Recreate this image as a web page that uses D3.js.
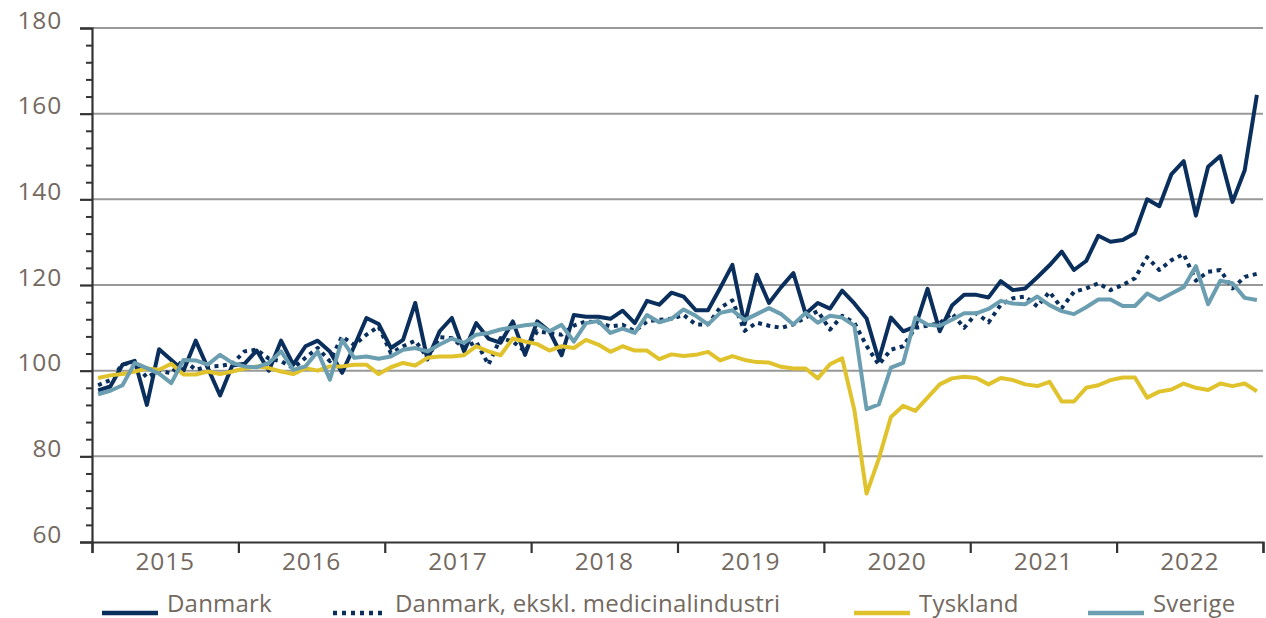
<!DOCTYPE html>
<html>
<head>
<meta charset="utf-8">
<script src="https://cdn.jsdelivr.net/npm/d3@7"></script>
<style>
  html, body { margin: 0; padding: 0; background: #fff; }
  svg { display: block; }
  text { font-family: "Open Sans", "Noto Sans", sans-serif; fill: #74695f; }
</style>
</head>
<body>
<svg id="chart" width="1266" height="618"></svg>
<script>
// ---- Data (monthly index, Jan 2015 – Dec 2022) ----
const years = [2015, 2016, 2017, 2018, 2019, 2020, 2021, 2022];
const yTicks = [60, 80, 100, 120, 140, 160, 180];
const seriesNames = ["Danmark", "Danmark, ekskl. medicinalindustri", "Tyskland", "Sverige"];

const danmark = [
  95.4, 96.3, 101.4, 102.3, 92.0, 105.0, 102.5, 100.0, 107.0, 100.6, 94.2, 101.2,
  101.6, 104.7, 100.0, 107.0, 101.4, 105.7, 107.0, 104.5, 99.5, 105.7, 112.3, 110.9,
  105.3, 107.2, 115.8, 102.6, 109.2, 112.3, 104.5, 111.1, 107.5, 106.5, 111.5, 103.7,
  111.5, 109.2, 103.6, 113.0, 112.6, 112.6, 112.1, 114.0, 111.1, 116.3, 115.4, 118.2,
  117.3, 114.1, 114.1, 119.3, 124.7, 110.9, 122.4, 115.8, 119.5, 122.8, 113.3, 115.8,
  114.5, 118.7, 115.7, 112.2, 102.5, 112.4, 109.2, 110.3, 119.1, 109.2, 115.2, 117.7,
  117.7, 117.1, 120.9, 118.8, 119.2, 121.8, 124.6, 127.8, 123.5, 125.6, 131.5, 130.1,
  130.5, 132.1, 140.0, 138.4, 145.9, 148.9, 136.2, 147.6, 150.1, 139.4, 146.8, 164.4
];
const danmarkEkskl = [
  96.6, 97.8, 101.5, 101.8, 98.4, 100.0, 99.4, 102.6, 100.2, 101.0, 101.1, 101.6,
  104.5, 104.9, 102.8, 102.2, 100.6, 103.0, 105.3, 102.2, 108.0, 106.0, 108.4, 110.3,
  104.1, 105.7, 107.0, 103.0, 107.8, 107.6, 105.3, 106.8, 101.4, 107.6, 106.8, 104.5,
  109.2, 108.8, 108.4, 110.5, 111.5, 111.3, 110.3, 110.7, 109.2, 111.5, 111.9, 112.1,
  113.0, 110.8, 110.8, 114.7, 116.4, 109.3, 111.2, 110.5, 110.0, 110.8, 112.4, 113.9,
  109.6, 112.8, 111.2, 105.8, 101.4, 104.9, 105.7, 110.0, 110.5, 111.1, 113.4, 110.0,
  113.4, 111.3, 115.4, 116.9, 117.3, 115.0, 118.4, 114.6, 118.4, 119.2, 120.4, 118.8,
  120.0, 121.6, 126.5, 123.5, 125.8, 127.2, 121.0, 123.1, 123.5, 119.2, 121.9, 122.6
];
const tyskland = [
  98.3, 98.9, 99.2, 99.8, 100.5, 100.2, 101.6, 99.1, 99.1, 99.8, 99.2, 99.8,
  100.5, 101.0, 100.6, 99.8, 99.2, 100.6, 100.0, 101.0, 101.0, 101.4, 101.4, 99.2,
  100.8, 101.8, 101.2, 103.0, 103.3, 103.3, 103.6, 105.7, 104.5, 103.6, 107.5, 106.8,
  106.2, 104.7, 105.7, 105.3, 107.2, 106.1, 104.4, 105.7, 104.7, 104.7, 102.7, 103.8,
  103.4, 103.7, 104.4, 102.4, 103.4, 102.5, 102.0, 101.9, 100.9, 100.5, 100.5, 98.2,
  101.5, 102.9, 90.8, 71.3, 79.4, 89.2, 91.8, 90.6, 93.7, 96.8, 98.2, 98.6,
  98.3, 96.8, 98.3, 97.8, 96.8, 96.4, 97.4, 92.8, 92.8, 96.0, 96.6, 97.8,
  98.4, 98.4, 93.7, 95.1, 95.6, 97.0, 96.0, 95.5, 97.0, 96.4, 97.0, 95.2
];
const sverige = [
  94.5, 95.3, 96.6, 101.8, 100.6, 99.3, 97.1, 102.5, 102.4, 101.4, 103.7, 101.8,
  101.0, 100.8, 101.8, 104.5, 100.2, 101.0, 104.5, 97.9, 107.2, 103.0, 103.3, 102.8,
  103.3, 104.9, 105.3, 104.5, 106.1, 107.5, 106.5, 108.4, 108.8, 109.6, 110.1, 110.6,
  110.9, 109.2, 110.7, 106.8, 111.1, 111.6, 108.8, 109.8, 108.8, 113.0, 111.3, 112.1,
  114.3, 112.8, 110.8, 113.5, 114.1, 111.8, 113.2, 114.6, 113.2, 110.8, 113.5, 111.2,
  112.8, 112.4, 110.5, 91.0, 92.1, 100.7, 101.8, 112.4, 110.7, 110.5, 111.9, 113.4,
  113.4, 114.4, 116.3, 115.7, 115.5, 117.3, 115.3, 113.9, 113.2, 114.8, 116.6, 116.6,
  115.1, 115.1, 118.0, 116.5, 118.0, 119.5, 124.4, 115.5, 121.0, 120.4, 117.0, 116.5
];

const months = [];
years.forEach(yv => { for (let m = 1; m <= 12; m++) months.push(yv + "-" + String(m).padStart(2, "0")); });

// ---- Layout ----
const plotLeft = 92, plotRight = 1263, plotTop = 28, plotBottom = 542;
const svg = d3.select("#chart");

const x = d3.scaleBand().domain(months).range([plotLeft, plotRight]).paddingInner(0).paddingOuter(0);
const xc = d => x(d) + x.bandwidth() / 2;
const y = d3.scaleLinear().domain([60, 180]).range([plotBottom, plotTop]);

const textCol = "#74695f";
const axisCol = "#333333";

// gridlines
svg.append("g").selectAll("line")
  .data(yTicks.filter(t => t > 60))
  .join("line")
  .attr("x1", plotLeft).attr("x2", plotRight)
  .attr("y1", d => y(d)).attr("y2", d => y(d))
  .attr("stroke", "#999999").attr("stroke-width", 2);

// y axis: minor ticks every 4
const minor = d3.range(60, 181, 4).filter(v => !yTicks.includes(v));
const yMinor = d3.axisLeft(y).tickValues(minor).tickSize(6).tickFormat("");
const gMinor = svg.append("g").attr("transform", `translate(${plotLeft},0)`).call(yMinor);
gMinor.select(".domain").remove();
gMinor.selectAll("line").attr("stroke", axisCol).attr("stroke-width", 2);

const yAxis = d3.axisLeft(y).tickValues(yTicks).tickSize(12).tickPadding(18).tickFormat(d3.format("d"));
const gY = svg.append("g").attr("transform", `translate(${plotLeft},0)`).call(yAxis);
gY.select(".domain").attr("stroke", axisCol).attr("stroke-width", 2.2);
gY.selectAll("line").attr("stroke", axisCol).attr("stroke-width", 2.2);
gY.selectAll("text")
  .attr("dy", "0")
  .attr("fill", textCol)
  .attr("font-family", "Open Sans")
  .style("font-size", "24.5px")
  .style("letter-spacing", "0.8px");

// x axis: year boundaries
const xAxisScale = d3.scaleLinear().domain([0, years.length]).range([plotLeft, plotRight]);
const xAxis = d3.axisBottom(xAxisScale).tickValues(d3.range(0, years.length + 1)).tickSize(11).tickFormat("");
const gX = svg.append("g").attr("transform", `translate(0,${plotBottom})`).call(xAxis);
gX.select(".domain").attr("stroke", axisCol).attr("stroke-width", 2.2);
gX.selectAll("line").attr("stroke", axisCol).attr("stroke-width", 2.2);

svg.append("g").selectAll("text")
  .data(years)
  .join("text")
  .attr("x", d => x(d + "-01") + x.bandwidth() * 6)
  .attr("y", 570)
  .attr("text-anchor", "middle")
  .style("font-size", "24.5px")
  .style("letter-spacing", "0.8px")
  .text(d => d);

// ---- Lines ----
const seriesDefs = [
  { name: seriesNames[0], values: danmark, color: "#0a2f5c", dash: null },
  { name: seriesNames[1], values: danmarkEkskl, color: "#0a2f5c", dash: "4,4.5" },
  { name: seriesNames[2], values: tyskland, color: "#e0c32c", dash: null },
  { name: seriesNames[3], values: sverige, color: "#6b9eb0", dash: null }
];

const line = d3.line().x((d, i) => xc(months[i])).y(d => y(d));

svg.append("g").selectAll("path")
  .data(seriesDefs)
  .join("path")
  .attr("d", d => line(d.values))
  .attr("fill", "none")
  .attr("stroke", d => d.color)
  .attr("stroke-width", 4)
  .attr("stroke-linejoin", "round")
  .attr("stroke-dasharray", d => d.dash);

// ---- Legend ----
const legendX = [102, 333, 854, 1088];
const legendW = [56, 53, 56, 56];
const lg = svg.append("g").selectAll("g")
  .data(seriesDefs)
  .join("g");
lg.append("line")
  .attr("x1", (d, i) => legendX[i]).attr("x2", (d, i) => legendX[i] + legendW[i])
  .attr("y1", 613).attr("y2", 613)
  .attr("stroke", d => d.color)
  .attr("stroke-width", 4.5)
  .attr("stroke-dasharray", d => d.dash ? "4,5" : null);
lg.append("text")
  .attr("x", (d, i) => legendX[i] + legendW[i] + 9)
  .attr("y", 612)
  .style("font-size", "24px")
  .style("letter-spacing", "0.2px")
  .text(d => d.name);
</script>
</body>
</html>
